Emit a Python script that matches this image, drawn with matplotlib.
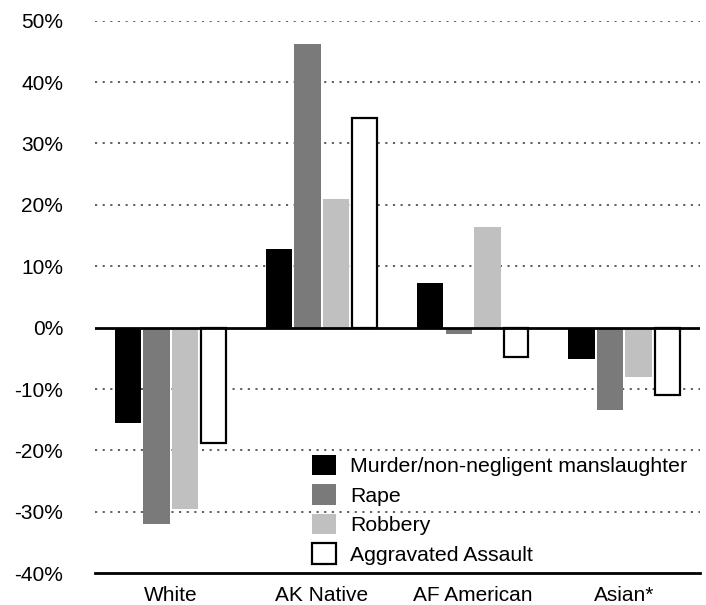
import matplotlib
matplotlib.use("Agg")
import matplotlib.pyplot as plt
import numpy as np

plt.rcParams['font.family'] = ['Liberation Sans', 'DejaVu Sans']

groups = ["White", "AK Native", "AF American", "Asian*"]
series = ["Murder/non-negligent manslaughter", "Rape", "Robbery", "Aggravated Assault"]
murder = [-15.6, 12.8, 7.3, -5.1]
rape = [-32.0, 46.2, -1.0, -13.4]
robbery = [-29.6, 20.9, 16.4, -8.1]
aggravated = [-18.7, 34.2, -4.7, -10.9]
yticks = [-40, -30, -20, -10, 0, 10, 20, 30, 40, 50]

values = [murder, rape, robbery, aggravated]
faces = ["#000000", "#7a7a7a", "#c0c0c0", "#ffffff"]
edges = ["none", "none", "none", "#000000"]

fig = plt.figure(figsize=(7.06, 6.05), dpi=100)
ax = fig.add_axes([0.1346, 0.0524, 0.8569, 0.9134])

x = np.arange(len(groups))
pitch = 0.189
width = 0.175
for i, (vals, fc, ec) in enumerate(zip(values, faces, edges)):
    offs = (i - 1.5) * pitch
    if ec == "none":
        ax.bar(x + offs, vals, width, color=fc, label=series[i], zorder=3)
    else:
        ax.bar(x + offs, vals, width - 0.01, facecolor=fc, edgecolor=ec,
               linewidth=1.6, label=series[i], zorder=3)

ax.set_xlim(-0.5, 3.5)
ax.set_ylim(-40, 50)
ax.set_yticks(yticks)
ax.set_yticklabels([f"{t}%" for t in yticks], fontsize=15)
ax.set_xticks(x)
ax.set_xticklabels(groups, fontsize=15)
ax.tick_params(axis='both', length=0)
ax.tick_params(axis='y', pad=23)
ax.tick_params(axis='x', pad=9)

for t in yticks:
    if t not in (0, -40):
        ax.axhline(t, color="#333333", linewidth=1.1, linestyle=(0, (1.4, 3.6)), zorder=1)
ax.axhline(0, color="black", linewidth=2.0, zorder=4)

for s in ["left", "right", "top"]:
    ax.spines[s].set_visible(False)
ax.spines["bottom"].set_linewidth(2.0)

leg = ax.legend(loc="lower left", bbox_to_anchor=(0.345, 0.0), frameon=False,
                fontsize=15.3, handlelength=1.1, handleheight=1.1,
                handletextpad=0.7, labelspacing=0.38, borderaxespad=0)

fig.savefig("out.png", dpi=100)
